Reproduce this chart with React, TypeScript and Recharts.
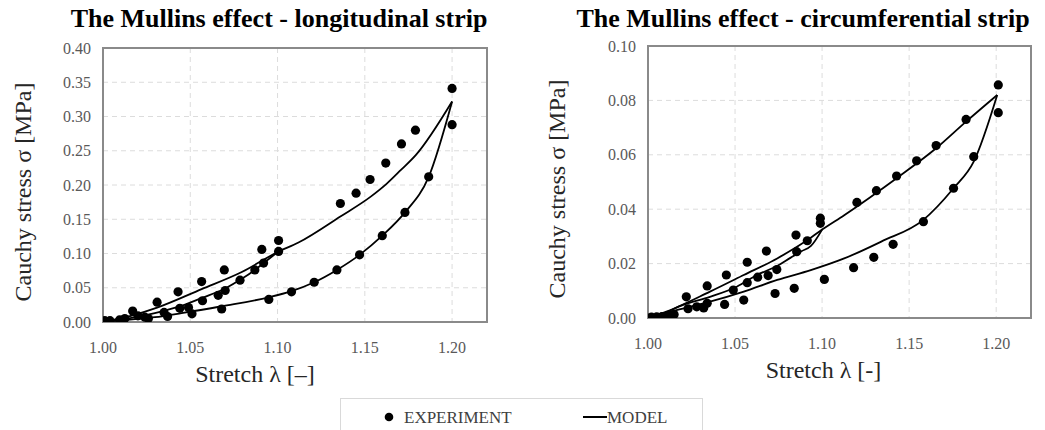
import React from 'react';
import {
  ComposedChart,
  Line,
  Scatter,
  XAxis,
  YAxis,
  CartesianGrid,
  ReferenceArea,
  Label,
} from 'recharts';

// ---------- shared axis values ----------
const stretchTicks = [1.0, 1.05, 1.1, 1.15, 1.2];
const stretchDomain = [1.0, 1.22];
const longStressTicks = [0, 0.05, 0.1, 0.15, 0.2, 0.25, 0.3, 0.35, 0.4];
const circStressTicks = [0, 0.02, 0.04, 0.06, 0.08, 0.1];

// ---------- longitudinal strip: experiment ----------
const longExpStretch = [1.001, 1.004, 1.0095, 1.0125, 1.017, 1.02, 1.024, 1.026, 1.031, 1.035, 1.037, 1.043, 1.044, 1.049, 1.051, 1.0565, 1.057, 1.066, 1.068, 1.0695, 1.07, 1.0785, 1.087, 1.091, 1.092, 1.095, 1.1006, 1.1006, 1.108, 1.121, 1.134, 1.136, 1.145, 1.147, 1.153, 1.16, 1.162, 1.171, 1.173, 1.179, 1.1866, 1.2, 1.2];
const longExpStress = [0.002, 0.002, 0.003, 0.005, 0.016, 0.009, 0.007, 0.005, 0.029, 0.014, 0.008, 0.044, 0.02, 0.021, 0.012, 0.059, 0.031, 0.039, 0.019, 0.076, 0.046, 0.061, 0.076, 0.106, 0.086, 0.033, 0.119, 0.103, 0.044, 0.058, 0.076, 0.173, 0.188, 0.098, 0.208, 0.126, 0.232, 0.26, 0.16, 0.28, 0.212, 0.341, 0.288];

// ---------- longitudinal strip: model ----------
const longLoadStretch = [1.0, 1.016, 1.031, 1.0565, 1.0795, 1.1, 1.112, 1.136, 1.1534, 1.1626, 1.1707, 1.1793, 1.2];
const longLoadStress = [0.0, 0.009, 0.021, 0.048, 0.073, 0.102, 0.116, 0.154, 0.183, 0.202, 0.222, 0.244, 0.322];
const longInnerStretch = [1.0, 1.0163, 1.0297, 1.043, 1.0565, 1.07, 1.0795, 1.087, 1.093, 1.1];
const longInnerStress = [0.0, 0.006, 0.013, 0.022, 0.035, 0.049, 0.063, 0.076, 0.088, 0.102];
const longUnloadStretch = [1.0, 1.0086, 1.0297, 1.045, 1.068, 1.095, 1.108, 1.121, 1.134, 1.147, 1.16, 1.173, 1.1866, 1.2];
const longUnloadStress = [0.0, 0.002, 0.007, 0.013, 0.023, 0.036, 0.045, 0.058, 0.076, 0.098, 0.126, 0.16, 0.212, 0.322];

// ---------- circumferential strip: experiment ----------
const circExpStretch = [1.0, 1.002, 1.005, 1.008, 1.012, 1.015, 1.022, 1.023, 1.028, 1.032, 1.034, 1.034, 1.044, 1.045, 1.049, 1.055, 1.057, 1.057, 1.063, 1.068, 1.069, 1.073, 1.074, 1.084, 1.085, 1.0854, 1.0915, 1.099, 1.099, 1.1013, 1.1181, 1.12, 1.1297, 1.1312, 1.1408, 1.1428, 1.1543, 1.1582, 1.1655, 1.1755, 1.1827, 1.1871, 1.2012, 1.2012];
const circExpStress = [0.0, 0.0003, 0.0004, 0.0005, 0.0008, 0.0013, 0.0078, 0.0034, 0.0041, 0.0037, 0.0118, 0.0054, 0.005, 0.0158, 0.0103, 0.0066, 0.0205, 0.013, 0.015, 0.0246, 0.0156, 0.009, 0.0178, 0.0109, 0.0305, 0.0244, 0.0284, 0.0367, 0.0348, 0.0142, 0.0185, 0.0425, 0.0223, 0.0468, 0.0271, 0.0522, 0.0578, 0.0354, 0.0634, 0.0477, 0.073, 0.0593, 0.0857, 0.0755];

// ---------- circumferential strip: model ----------
const circLoadStretch = [1.0, 1.0087, 1.0356, 1.055, 1.0742, 1.0935, 1.1, 1.1127, 1.1428, 1.1655, 1.1827, 1.2006];
const circLoadStress = [0.0, 0.0019, 0.0097, 0.0158, 0.0219, 0.0295, 0.0325, 0.0378, 0.0514, 0.0624, 0.0722, 0.082];
const circInnerStretch = [1.0, 1.0087, 1.0202, 1.0356, 1.051, 1.0626, 1.0744, 1.082, 1.088, 1.0936, 1.1];
const circInnerStress = [0.0, 0.0017, 0.0048, 0.0078, 0.0115, 0.0158, 0.0192, 0.0222, 0.0245, 0.0265, 0.0325];
const circUnloadStretch = [1.0, 1.0164, 1.0356, 1.055, 1.0742, 1.0935, 1.1127, 1.134, 1.158, 1.1755, 1.1871, 1.2006];
const circUnloadStress = [0.0, 0.0029, 0.006, 0.0097, 0.014, 0.0176, 0.0219, 0.0281, 0.036, 0.0477, 0.0575, 0.082];

const zip = (xs: number[], ys: number[]) => xs.map((x, i) => ({ x, y: ys[i] }));

const SERIF = "'Liberation Serif', 'Times New Roman', Times, serif";

const ExpDot = (props: any) => {
  const { cx, cy } = props;
  if (cx == null || cy == null) return null;
  return <circle cx={cx} cy={cy} r={4.6} fill="#000" />;
};

type PanelProps = {
  width: number;
  height: number;
  margin: { top: number; right: number; bottom: number; left: number };
  yAxisWidth: number;
  yTicks: number[];
  yLabelX: number;
  yLabelDy: number;
  xLabel: string;
  xLabelDx: number;
  exp: { x: number; y: number }[];
  segments: { x: number; y: number }[][];
};

function Panel(p: PanelProps) {
  const yMax = p.yTicks[p.yTicks.length - 1];
  return (
    <ComposedChart width={p.width} height={p.height} margin={p.margin}>
      <CartesianGrid stroke="#dcdcdc" strokeDasharray="5 4" />
      <XAxis
        dataKey="x"
        type="number"
        domain={stretchDomain}
        ticks={stretchTicks}
        allowDataOverflow
        interval={0}
        tickFormatter={(v: number) => v.toFixed(2)}
        axisLine={false}
        tickLine={false}
        tickSize={0}
        tickMargin={20}
        height={60}
        tick={{ fill: '#595959', fontSize: 16, fontFamily: SERIF }}
      >
        <Label
          content={(lp: any) => {
            const vb = lp.viewBox;
            return (
              <text
                x={vb.x + vb.width / 2 + p.xLabelDx}
                y={vb.y + 60}
                textAnchor="middle"
                fontSize={24}
                fontFamily={SERIF}
                fill="#262626"
              >
                {p.xLabel}
              </text>
            );
          }}
        />
      </XAxis>
      <YAxis
        dataKey="y"
        type="number"
        domain={[0, yMax]}
        ticks={p.yTicks}
        allowDataOverflow
        interval={0}
        tickFormatter={(v: number) => v.toFixed(2)}
        axisLine={false}
        tickLine={false}
        tickSize={0}
        tickMargin={12}
        width={p.yAxisWidth}
        tick={{ fill: '#595959', fontSize: 16, fontFamily: SERIF }}
      >
        <Label
          content={(lp: any) => {
            const vb = lp.viewBox;
            const cx = vb.x + p.yLabelX;
            const cy = vb.y + vb.height / 2 + p.yLabelDy;
            return (
              <text
                x={cx}
                y={cy}
                transform={`rotate(-90 ${cx} ${cy})`}
                textAnchor="middle"
                dominantBaseline="central"
                fontSize={24}
                fontFamily={SERIF}
                fill="#262626"
              >
                Cauchy stress σ [MPa]
              </text>
            );
          }}
        />
      </YAxis>
      <ReferenceArea
        x1={stretchDomain[0]}
        x2={stretchDomain[1]}
        y1={0}
        y2={yMax}
        fill="none"
        stroke="#8a8a8a"
        strokeWidth={2}
        ifOverflow="visible"
      />
      {p.segments.map((seg, i) => (
        <Line
          key={i}
          data={seg}
          dataKey="y"
          type="monotone"
          stroke="#000"
          strokeWidth={1.8}
          dot={false}
          activeDot={false}
          isAnimationActive={false}
          legendType="none"
        />
      ))}
      <Scatter data={p.exp} dataKey="y" fill="#000" shape={ExpDot} isAnimationActive={false} />
    </ComposedChart>
  );
}

const titleStyle: React.CSSProperties = {
  position: 'absolute',
  top: 4,
  fontFamily: SERIF,
  fontWeight: 'bold',
  fontSize: 26,
  lineHeight: '30px',
  color: '#000',
  whiteSpace: 'nowrap',
  transform: 'translateX(-50%)',
};

export default function App() {
  return (
    <div
      style={{
        position: 'absolute',
        left: 0,
        top: 0,
        width: 1045,
        height: 430,
        overflow: 'hidden',
        background: '#fff',
        fontFamily: SERIF,
      }}
    >
      <style>{`.recharts-cartesian-axis-tick-value { font-family: ${SERIF}; }`}</style>
      <div style={{ ...titleStyle, left: 279 }}>The Mullins effect - longitudinal strip</div>
      <div style={{ ...titleStyle, left: 803 }}>The Mullins effect - circumferential strip</div>

      <div style={{ position: 'absolute', left: 0, top: 0 }}>
        <Panel
          width={520}
          height={430}
          margin={{ top: 48, right: 33, bottom: 48, left: 0 }}
          yAxisWidth={103}
          yTicks={longStressTicks}
          yLabelX={23}
          yLabelDy={7}
          xLabel="Stretch λ [–]"
          xLabelDx={-40}
          exp={zip(longExpStretch, longExpStress)}
          segments={[
            zip(longLoadStretch, longLoadStress),
            zip(longInnerStretch, longInnerStress),
            zip(longUnloadStretch, longUnloadStress),
          ]}
        />
      </div>

      <div style={{ position: 'absolute', left: 520, top: 0 }}>
        <Panel
          width={525}
          height={430}
          margin={{ top: 46, right: 14, bottom: 52, left: 0 }}
          yAxisWidth={128}
          yTicks={circStressTicks}
          yLabelX={37}
          yLabelDy={7}
          xLabel="Stretch λ [-]"
          xLabelDx={-16}
          exp={zip(circExpStretch, circExpStress)}
          segments={[
            zip(circLoadStretch, circLoadStress),
            zip(circInnerStretch, circInnerStress),
            zip(circUnloadStretch, circUnloadStress),
          ]}
        />
      </div>

      <div
        style={{
          position: 'absolute',
          left: 340,
          top: 398,
          width: 363,
          height: 40,
          border: '1px solid #d9d9d9',
          background: '#fff',
          boxSizing: 'border-box',
          zIndex: 2,
        }}
      >
        <svg width={363} height={40} style={{ position: 'absolute', left: 0, top: 0 }}>
          <circle cx={48} cy={18} r={4.3} fill="#000" />
          <text x={63} y={24} fontSize={17} fontFamily={SERIF} fill="#404040">
            EXPERIMENT
          </text>
          <line x1={242} x2={266} y1={18} y2={18} stroke="#000" strokeWidth={2} />
          <text x={266} y={24} fontSize={17} fontFamily={SERIF} fill="#404040">
            MODEL
          </text>
        </svg>
      </div>
    </div>
  );
}
